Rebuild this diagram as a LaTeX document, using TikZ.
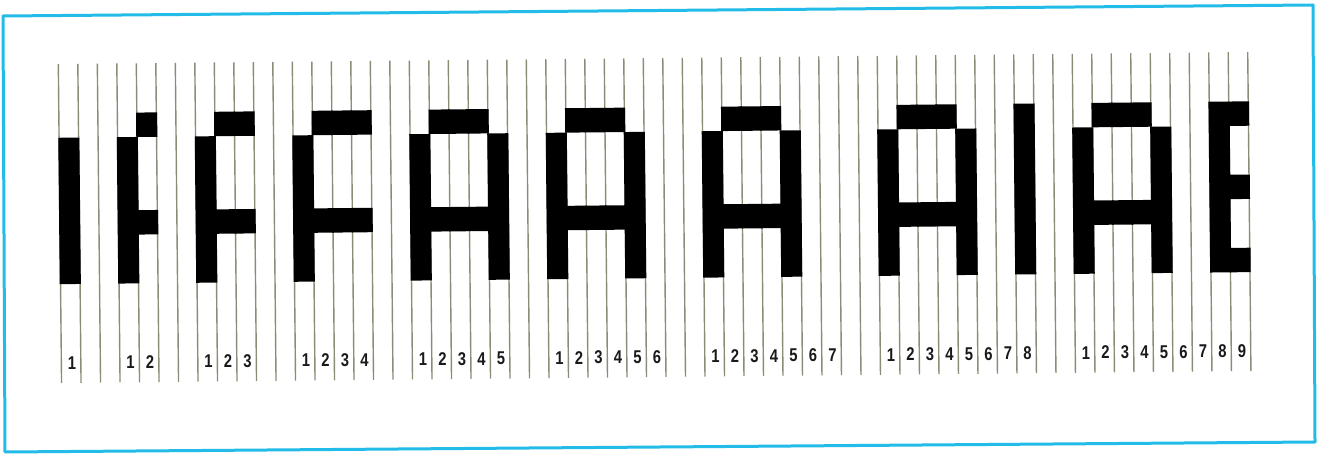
\documentclass[tikz,border=0pt]{standalone}
\usepackage{fontspec}
\newfontfamily\labfont[FakeStretch=0.8]{Liberation Sans Bold}
\definecolor{framecyan}{RGB}{35,188,232}
\definecolor{rulegray}{RGB}{140,140,118}
\begin{document}
\begin{tikzpicture}[x=1pt,y=-1pt,
  gridline/.style={draw=rulegray,line width=1.4pt},
  cellfill/.style={fill=black},
  numlabel/.style={font=\labfont\fontsize{18.5}{18.5}\selectfont,inner sep=0pt,text=black!90}]
\useasboundingbox (0,0) rectangle (1323,454);
\fill[white] (0,0) rectangle (1323,454);
\draw[framecyan,line width=3pt,line join=round] (3,16) -- (1313,5) -- (1315,442) -- (5,452) -- cycle;
\begin{scope}[rotate around={0.58:(659,229)}]
  % vertical rules
  \foreach \n in {0,...,61}
    \draw[gridline] ({60+19.5*\n},58) -- ({60+19.5*\n},377);
  % black cells: column / list of row spans
  \foreach \j/\spans in {1/{2/7},2/{1/1,5/5},3/{1/1,5/5},4/{1/1,5/5},5/{2/7},8/{1/7},9/{1/1,4/4,7/7}}{
    \foreach \g in {\j,...,9}{
      \pgfmathtruncatemacro{\s}{(\g-1)*(\g+4)/2}
      \foreach \a/\b in \spans{
        \fill[cellfill] ({60+19.5*(\s+\j-1)-0.8},{107.3+24.4*(\a-1)}) rectangle ({60+19.5*(\s+\j)+0.8},{107.3+24.4*\b});
      }
    }
  }
  % column numbers
  \foreach \g in {1,...,9}{
    \pgfmathtruncatemacro{\s}{(\g-1)*(\g+4)/2}
    \foreach \j in {1,...,\g}{
      \node[numlabel] (lab\g-\j) at ({60+19.5*(\s+\j-0.5)+1},357) {\j};
    }
  }
\end{scope}
\end{tikzpicture}
\end{document}
